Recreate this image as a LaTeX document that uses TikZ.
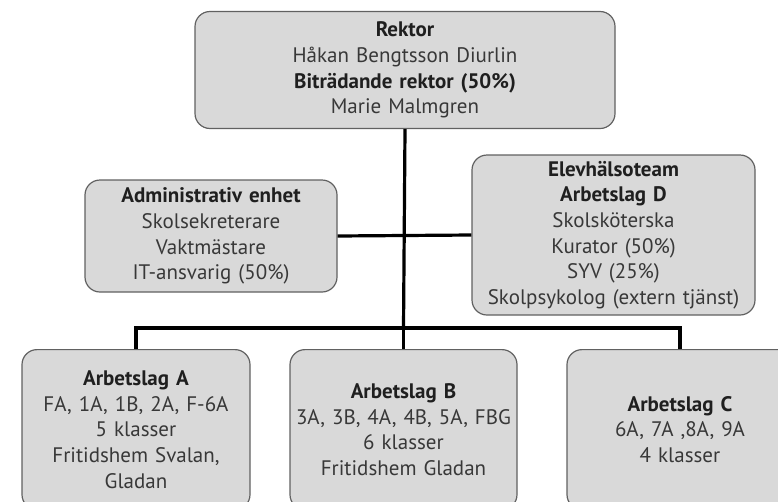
\documentclass[tikz,border=0pt]{standalone}
\usepackage{fontspec}
\setmainfont{PT Sans}
\begin{document}
\begin{tikzpicture}[x=1pt,y=1pt,
  box/.style={draw=black!62, line width=1.2pt, fill=black!15, rounded corners=15pt,
    align=center, inner sep=0pt, text=black!78, font=\fontsize{21}{25.7}\selectfont},
  conn/.style={line width=3.2pt, black}]
\useasboundingbox (0,0) rectangle (778,-501);
\node[box, minimum width=420, minimum height=117, text width=400] (rektor) at (405,-70)
  {\textbf{\color{black!88}Rektor}\\Håkan Bengtsson Diurlin\\\textbf{\color{black!88}Biträdande rektor (50\%)}\\Marie Malmgren};
\node[box, minimum width=252, minimum height=112, text width=245] (admin) at (211,-236)
  {\textbf{\color{black!88}Administrativ enhet}\\Skolsekreterare\\Vaktmästare\\IT-ansvarig (50\%)};
\node[box, minimum width=283, minimum height=160, text width=278] (elev) at (613.5,-235)
  {\textbf{\color{black!88}Elevhälsoteam}\\\textbf{\color{black!88}Arbetslag D}\\Skolsköterska\\Kurator (50\%)\\SYV (25\%)\\Skolpsykolog (extern tjänst)};
\node[box, minimum width=228, minimum height=160, text width=222, anchor=north] (A) at (136,-349)
  {\textbf{\color{black!88}Arbetslag A}\\FA, 1A, 1B, 2A, F-6A\\5 klasser\\Fritidshem Svalan,\\Gladan};
\node[box, minimum width=227, minimum height=160, text width=222, anchor=north] (B) at (403.5,-349)
  {\textbf{\color{black!88}Arbetslag B}\\3A, 3B, 4A, 4B, 5A, FBG\\6 klasser\\Fritidshem Gladan};
\node[box, minimum width=226, minimum height=160, text width=220, anchor=north] (C) at (680,-349)
  {\textbf{\color{black!88}Arbetslag C}\\6A, 7A ,8A, 9A\\4 klasser};
\coordinate (j) at (403.5,-328);
\draw[conn] (rektor.south) -- (j);
\draw[conn] (admin.east) -- (elev.west);
\draw[conn] (A.north) |- (j) -| (C.north);
\draw[conn] (j) -- (B.north);
\end{tikzpicture}
\end{document}
